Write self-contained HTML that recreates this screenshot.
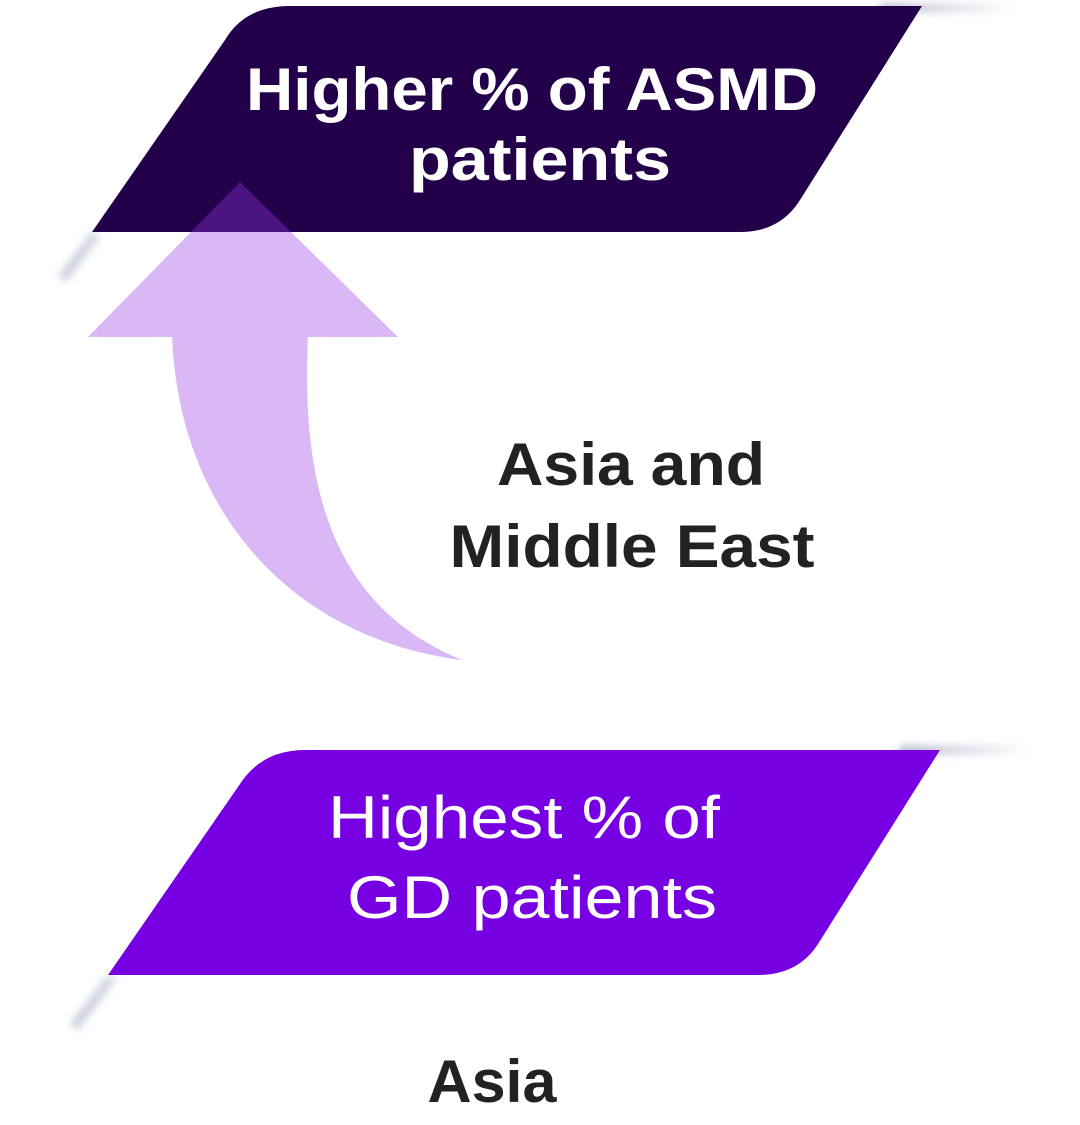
<!DOCTYPE html>
<html><head><meta charset="utf-8"><style>
html,body{margin:0;padding:0;background:#fff;width:1080px;height:1125px;overflow:hidden}
</style></head><body>
<svg width="1080" height="1125" viewBox="0 0 1080 1125" xmlns="http://www.w3.org/2000/svg">
<defs>
<filter id="b" x="-20%" y="-50%" width="140%" height="200%"><feGaussianBlur stdDeviation="4"/></filter>
<linearGradient id="g1" x1="0" x2="1"><stop offset="0" stop-color="#8a8fb0" stop-opacity=".7"/><stop offset="1" stop-color="#8a8fb0" stop-opacity="0"/></linearGradient>
<linearGradient id="g2" x1="1" x2="0"><stop offset="0" stop-color="#8a8fb0" stop-opacity=".7"/><stop offset="1" stop-color="#8a8fb0" stop-opacity="0"/></linearGradient>
</defs>
<!-- shadows -->
<g filter="url(#b)">
<rect x="880" y="4" width="130" height="8" fill="url(#g1)"/>
<polygon points="92,232 100,236 66,282 58,276" fill="#9aa0c0" opacity=".5"/>
<rect x="900" y="746" width="130" height="8" fill="url(#g1)"/>
<polygon points="108,975 116,979 78,1030 70,1024" fill="#9aa0c0" opacity=".5"/>
</g>
<!-- top shape -->
<path d="M290,6 L922,6 L800,200 Q780,232 740,232 L92,232 L225,40 Q245,6 290,6 Z" fill="#23004a"/>
<!-- bottom shape -->
<path d="M305,750 L940,750 L818,944 Q798,975 758,975 L108,975 L240,784 Q262,750 305,750 Z" fill="#7600e2"/>
<!-- arrow -->
<g fill="rgb(148,55,227)" fill-opacity=".355">
<path d="M240,182 L398,337 L308,337 C300,500 340,610 462,660 C300,640 180,520 172,337 L88,337 Z"/>
</g>
<g font-family="Liberation Sans, sans-serif" text-anchor="middle">
<text x="532" y="110" fill="#fff" font-size="60" font-weight="bold" textLength="572" lengthAdjust="spacingAndGlyphs">Higher % of ASMD</text>
<text x="540" y="180" fill="#fff" font-size="60" font-weight="bold" textLength="262" lengthAdjust="spacingAndGlyphs">patients</text>
<text x="524" y="838" fill="#fff" font-size="60" textLength="392" lengthAdjust="spacingAndGlyphs">Highest % of</text>
<text x="532" y="918" fill="#fff" font-size="60" textLength="370" lengthAdjust="spacingAndGlyphs">GD patients</text>
<text x="631" y="485" fill="#222" font-size="60" font-weight="bold" textLength="268" lengthAdjust="spacingAndGlyphs">Asia and</text>
<text x="632" y="567" fill="#222" font-size="60" font-weight="bold" textLength="365" lengthAdjust="spacingAndGlyphs">Middle East</text>
<text x="492" y="1102" fill="#222" font-size="60" font-weight="bold" textLength="129" lengthAdjust="spacingAndGlyphs">Asia</text>
</g>
</svg>
</body></html>
